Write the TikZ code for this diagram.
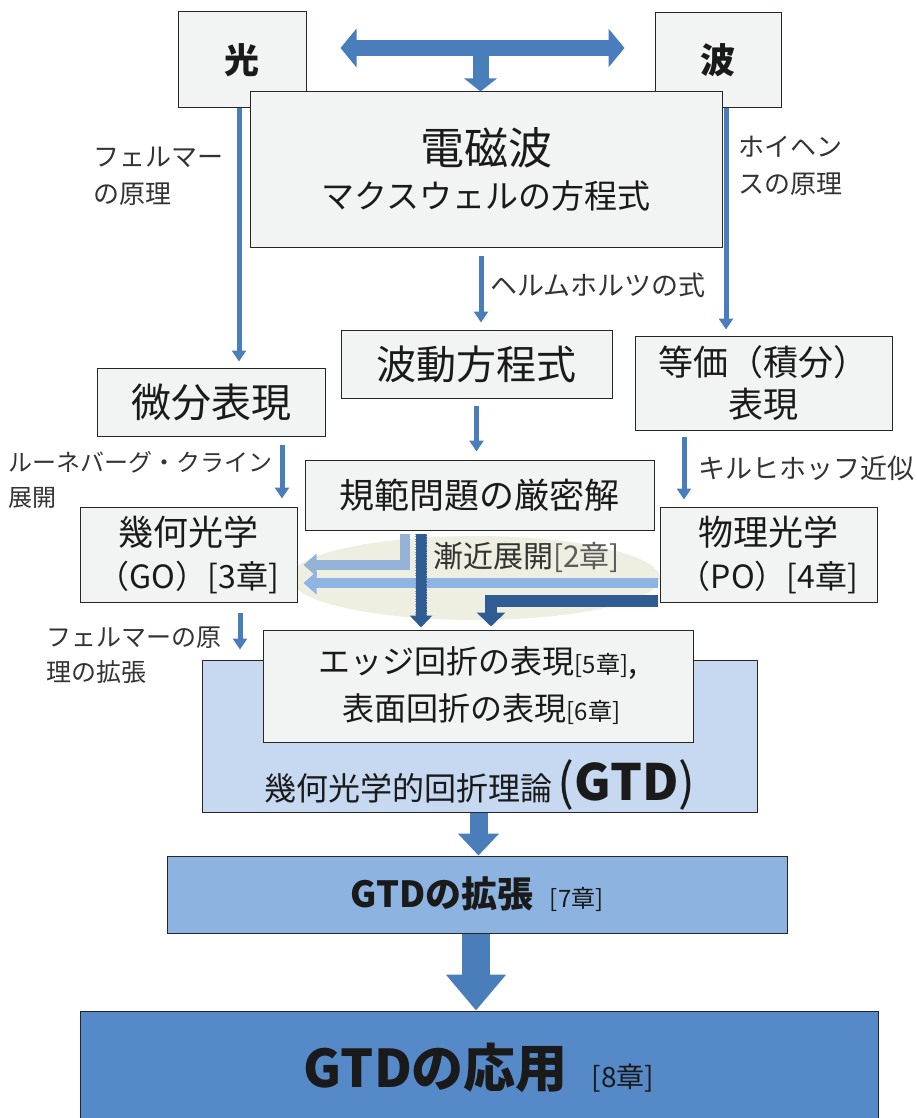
\documentclass[tikz,border=0pt]{standalone}
\usepackage{fontspec}
\setmainfont{Noto Sans CJK JP}
\usetikzlibrary{arrows.meta,calc}
\definecolor{boxfill}{HTML}{F2F3F3}
\definecolor{boxline}{HTML}{262626}
\definecolor{arrowblue}{HTML}{4A7EBB}
\definecolor{lightblueA}{HTML}{95B3D7}
\definecolor{lightblueB}{HTML}{8EB4E3}
\definecolor{darkblue}{HTML}{2F5C92}
\definecolor{gtdfill}{HTML}{C6D9F0}
\definecolor{extfill}{HTML}{8DB3E0}
\definecolor{appfill}{HTML}{5589C8}
\definecolor{ellfill}{HTML}{EEEEE1}
\definecolor{txt}{HTML}{1A1A1A}
\definecolor{labtxt}{HTML}{333333}
\newcommand{\fz}[2]{\fontsize{#1}{#2}\selectfont}
\tikzset{
  box/.style={draw=boxline, line width=1pt, fill=boxfill, inner sep=0pt, align=center, text=txt},
  lab/.style={inner sep=0pt, align=left, text=labtxt, anchor=west},
  thinarrow/.style={draw=arrowblue, line width=5pt, -{Triangle[width=14pt,length=11pt]}},
  blockarrow/.style={draw=arrowblue}
}
\begin{document}
\begin{tikzpicture}[x=1pt,y=-1pt]
\useasboundingbox (0,0) rectangle (916,1118);

% top row
\node[box, minimum width=128pt, minimum height=96pt, font=\fz{35}{40}\bfseries] (hikari) at (242,60) {光};
\node[box, minimum width=126pt, minimum height=95pt, font=\fz{35}{40}\bfseries] (nami) at (718,60) {波};
\node[box, minimum width=472pt, minimum height=155pt] (denji) at (486,169.5)
  {{\fz{44}{54}電磁波}\\[12pt]{\fz{33}{42}マクスウェルの方程式}};

% double arrow and stub
\coordinate (mid) at ($([yshift=12pt]hikari.east)!0.5!([yshift=12pt]nami.west)$);
\draw[blockarrow, line width=16pt, {Triangle[width=38pt,length=16pt]}-{Triangle[width=38pt,length=16pt]}, shorten <=34pt, shorten >=30pt]
  ([yshift=12pt]hikari.east) -- ([yshift=12pt]nami.west);
\draw[blockarrow, line width=16pt, -{Triangle[width=32pt,length=13pt]}] (mid) -- (mid |- denji.north);

% second row
\node[box, minimum width=228pt, minimum height=68pt, font=\fz{40}{46}] (bibun) at (211,402) {微分表現};
\node[box, minimum width=271pt, minimum height=68pt, font=\fz{40}{46}] (hado) at (476.5,364) {波動方程式};
\node[box, minimum width=257pt, minimum height=94pt, font=\fz{35}{42}] (touka) at (763.5,383) {等価（積分）\\表現};

% labels upper
\node[lab, font=\fz{26}{37}] (fermat) at (93,176) {フェルマー\\の原理};
\node[lab, font=\fz{26}{37}] (huygens) at (738,166) {ホイヘン\\スの原理};
\node[lab, font=\fz{27}{32}] (helm) at (490,285) {ヘルムホルツの式};

% arrows top -> second row
\draw[thinarrow, shorten >=6pt] ([xshift=-3pt]hikari.south) -- ([xshift=-3pt]hikari.south |- bibun.north);
\draw[thinarrow, shorten >=6pt] ([xshift=8pt]nami.south) -- ([xshift=8pt]nami.south |- touka.north);
\draw[thinarrow, shorten <=8pt, shorten >=7pt] ([xshift=-5pt]denji.south) -- ([xshift=-5pt]denji.south |- hado.north);

% third row
\node[box, minimum width=349pt, minimum height=70pt, font=\fz{35}{42}] (kihan) at (479.5,495) {規範問題の厳密解};

\fill[ellfill] (475,578) ellipse [x radius=185pt, y radius=42pt];

\node[box, minimum width=217pt, minimum height=95pt, font=\fz{35}{43}] (GO) at (188.5,554.5)
  {幾何光学\\{\fz{32}{43}（GO）[3章]}};
\node[box, minimum width=217pt, minimum height=95pt, font=\fz{35}{43}] (PO) at (768.5,554.5)
  {物理光学\\{\fz{32}{43}（PO）[4章]}};

\node[lab, font=\fz{24}{35}] (luneburg) at (8,480) {ルーネバーグ・クライン\\展開};
\node[lab, font=\fz{27}{32}] (kirch) at (698,468) {キルヒホッフ近似};

\draw[thinarrow, shorten <=8pt, shorten >=8pt] ([xshift=71pt]bibun.south) -- ([xshift=71pt]bibun.south |- GO.north);
\draw[thinarrow, shorten <=7pt, shorten >=8pt] (hado.south) -- (hado.south |- kihan.north);
\draw[thinarrow, shorten <=6pt, shorten >=7pt] ([xshift=-79.5pt]touka.south) -- ([xshift=-79.5pt]touka.south |- PO.north);

\node[lab, font=\fz{30}{36}] (zenkin) at (433,557) {漸近展開{\color{labtxt!80}[2章]}};

% GTD block
\node[draw=boxline, line width=1pt, fill=gtdfill, minimum width=555pt, minimum height=152pt, inner sep=0pt] (gtd) at (479.5,736) {};
\node[inner sep=0pt, text=txt] (gtdlab) at (480,785) {\fz{32}{38}幾何光学的回折理論\,{\fz{50}{54}(\textbf{GTD})}};
\node[box, minimum width=430pt, minimum height=112pt, font=\fz{32}{47}] (inner) at (478,686)
  {エッジ回折の表現{\fz{24}{30}[5章]},\\\ 表面回折の表現{\fz{24}{30}[6章]}};

% asymptotic arrows
\draw[lightblueA, line width=10pt, -{Triangle[width=22pt,length=13pt]}, shorten <=3pt, shorten >=6pt]
  ([xshift=-75pt]kihan.south) |- ([yshift=-10.5pt]GO.east);
\draw[lightblueB, line width=10pt, -{Triangle[width=22pt,length=13pt]}, shorten <=2pt, shorten >=6pt]
  ([yshift=-28.5pt]PO.west) -- ([yshift=-28.5pt]PO.west -| GO.east);
\draw[darkblue, line width=11pt, -{Triangle[width=22pt,length=12pt]}, shorten <=3pt, shorten >=2pt]
  ([xshift=-58.5pt]kihan.south) -- ([xshift=-58.5pt]kihan.south |- inner.north);
\draw[darkblue!60!white, line width=0.6pt, dotted] ([xshift=-64pt,yshift=-3pt]kihan.south) -- ([xshift=-64pt,yshift=14pt]kihan.south |- inner.north);
\draw[darkblue!60!white, line width=0.6pt, dotted] ([xshift=-53pt,yshift=-3pt]kihan.south) -- ([xshift=-53pt,yshift=14pt]kihan.south |- inner.north);
\draw[darkblue, line width=12pt, -{Triangle[width=28pt,length=14pt]}, shorten <=2pt, shorten >=3pt]
  ([yshift=-46.5pt]PO.west) -| ([xshift=13pt]inner.north);

\node[lab, font=\fz{25}{35}] (fermat2) at (46,655) {フェルマーの原\\理の拡張};
\draw[thinarrow, shorten <=10pt, shorten >=10pt] ([xshift=51.5pt]GO.south) -- ([xshift=51.5pt]GO.south |- gtd.north);

% lower blocks
\node[draw=boxline, line width=1pt, fill=extfill, minimum width=620pt, minimum height=77pt, inner sep=0pt, text=txt] (ext) at (477,894.5)
  {\fz{36}{42}\bfseries GTDの拡張\ \ {\mdseries\fz{24}{30}[7章]}};
\node[draw=boxline, line width=1pt, fill=appfill, minimum width=798pt, minimum height=114pt, inner sep=0pt, text=txt] (app) at (479,1068)
  {\fz{52}{60}\bfseries GTDの応用\ \ {\mdseries\fz{28}{34}[8章]}};

\draw[blockarrow, line width=18pt, -{Triangle[width=40pt,length=22pt]}] ([xshift=-1pt]gtd.south) -- ([xshift=-1pt]gtd.south |- ext.north);
\draw[blockarrow, line width=28pt, -{Triangle[width=58pt,length=36pt]}] ([xshift=-1pt]ext.south) -- ([xshift=-1pt]ext.south |- app.north);
\end{tikzpicture}
\end{document}
